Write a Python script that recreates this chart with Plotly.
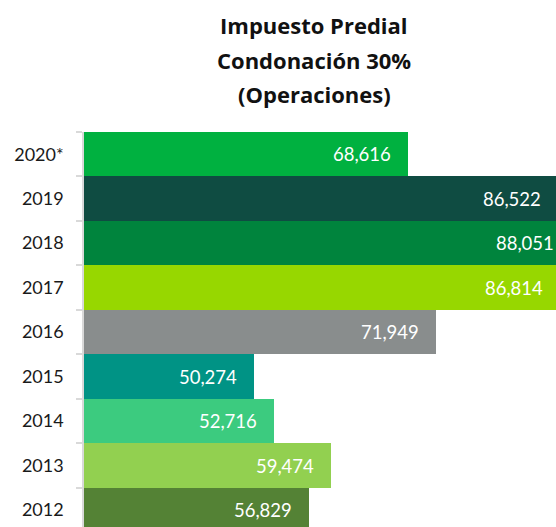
import plotly.graph_objects as go

# ---- data (bottom to top) ----
years = ["2012", "2013", "2014", "2015", "2016", "2017", "2018", "2019", "2020*"]
operaciones = [56829, 59474, 52716, 50274, 71949, 86814, 88051, 86522, 68616]
bar_colors = ["#548235", "#92d050", "#3ccb7f", "#009385", "#898d8d",
              "#97d700", "#00843d", "#0f4c42", "#00b140"]
title_lines = ["Impuesto Predial", "Condonación 30%", "(Operaciones)"]

AXIS_START = 30000
AXIS_END = 90000
PAD = "\u00a0" * 3

# the chart is a view cropped by the window: it continues past the right and bottom edges
ML, MT, MR, MB = 84, 132, 0, 0
PLOT_W, PLOT_H = 503, 400
W, H = ML + PLOT_W + MR, MT + PLOT_H + MB

fig = go.Figure()
fig.add_trace(go.Bar(
    y=years,
    x=[v - AXIS_START for v in operaciones],
    base=AXIS_START,
    orientation="h",
    marker=dict(color=bar_colors, line=dict(width=0)),
    text=[f"{v:,}" + PAD for v in operaciones],
    textposition="inside",
    insidetextanchor="end",
    textangle=0,
    constraintext="none",
    insidetextfont=dict(family="Lato", size=18.5, color="#ffffff"),
    hoverinfo="skip",
))

for line, ypx in zip(title_lines, [25.5, 59.5, 93.5]):
    fig.add_annotation(
        text=f"<b>{line}</b>",
        xref="paper", yref="paper",
        x=(314 - ML) / PLOT_W, y=(MT + PLOT_H - ypx) / PLOT_H,
        xanchor="center", yanchor="middle",
        showarrow=False,
        font=dict(family="Open Sans", size=22, color="#111111"),
    )

fig.update_layout(
    width=W, height=H,
    margin=dict(l=ML, r=MR, t=MT, b=MB, pad=0),
    paper_bgcolor="#ffffff",
    plot_bgcolor="#ffffff",
    bargap=0,
    showlegend=False,
    hovermode=False,
    xaxis=dict(range=[AXIS_START, AXIS_END], visible=False, fixedrange=True),
    yaxis=dict(
        type="category",
        categoryorder="array", categoryarray=years,
        range=[-0.5, 8.5],
        showline=True, linecolor="#d9d9d9", linewidth=1.5,
        ticks="outside", tickson="boundaries", ticklen=6,
        tickcolor="#d9d9d9", tickwidth=1.5,
        ticklabelstandoff=15,
        tickfont=dict(family="Lato", size=18, color="#1a1a1a"),
        showgrid=False, zeroline=False, fixedrange=True,
        automargin=False,
    ),
)

fig.write_html(
    "out.html",
    config={"displayModeBar": False, "responsive": False},
    post_script="document.body.style.margin='0';"
                "document.documentElement.style.overflow='hidden';"
                "document.body.style.overflow='hidden';",
)
